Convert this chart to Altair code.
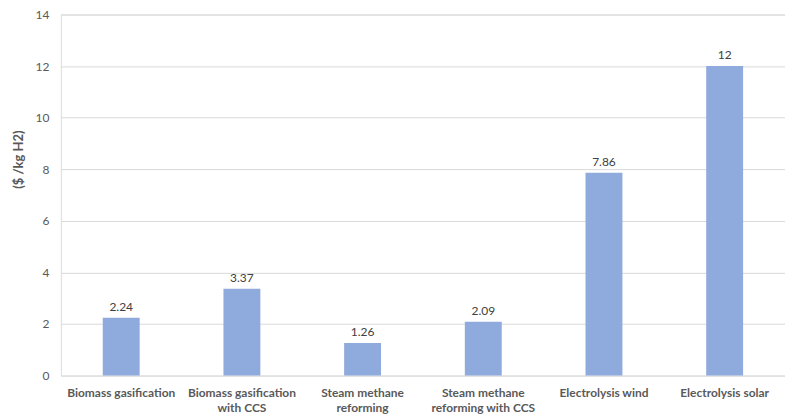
import altair as alt
import pandas as pd

categories = [
    "Biomass gasification",
    "Biomass gasification\nwith CCS",
    "Steam methane\nreforming",
    "Steam methane\nreforming with CCS",
    "Electrolysis wind",
    "Electrolysis solar",
]
costs = [2.24, 3.37, 1.26, 2.09, 7.86, 12]
value_labels = ["2.24", "3.37", "1.26", "2.09", "7.86", "12"]

df = pd.DataFrame({"cat": categories, "cost": costs, "lbl": value_labels})

x = alt.X(
    "cat:N",
    sort=categories,
    title=None,
    scale=alt.Scale(paddingInner=0, paddingOuter=0),
    axis=alt.Axis(
        labelExpr="split(datum.label, '\\n')",
        labelAngle=0,
        labelFont="Lato",
        labelFontWeight="bold",
        labelFontSize=12,
        labelColor="#595959",
        labelPadding=12,
        labelLineHeight=15,
        ticks=False,
        domain=False,
        labelLimit=200,
    ),
)

base = alt.Chart(df).encode(x=x)

bars = base.mark_bar(color="#8faadc", size=37).encode(
    y=alt.Y(
        "cost:Q",
        scale=alt.Scale(domain=[0, 14]),
        title="($ /kg H2)",
        axis=alt.Axis(
            values=[0, 2, 4, 6, 8, 10, 12, 14],
            ticks=False,
            domain=False,
            gridColor="#d9d9d9",
            gridWidth=1,
            labelFont="Lato",
            labelFontSize=12,
            labelColor="#595959",
            labelPadding=12,
            titleFont="Lato",
            titleFontSize=13,
            titleFontWeight="bold",
            titleColor="#595959",
            titlePadding=10,
            titleY=145,
        ),
    )
)

text = base.mark_text(
    dy=-11, font="Lato", fontSize=12, color="#404040"
).encode(y="cost:Q", text="lbl:N")

chart = (
    (bars + text)
    .properties(
        width=726,
        height=362,
        autosize="none",
        padding={"left": 53, "top": 6, "right": 0, "bottom": 42},
    )
    .configure_view(stroke=None)
    .configure(background="white")
)

chart.save("out.html", embed_options={"renderer": "svg", "actions": False})
